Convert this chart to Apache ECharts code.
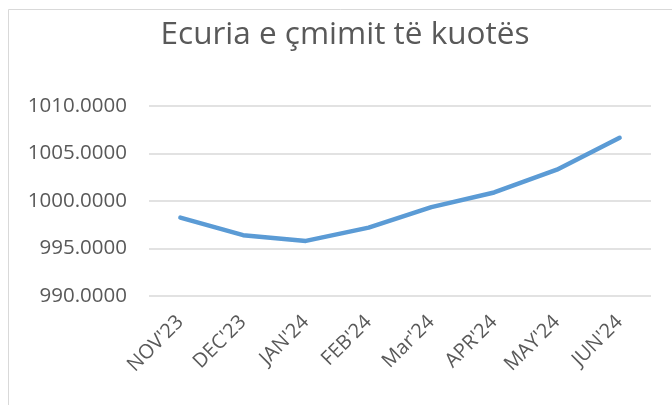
<!DOCTYPE html>
<html>
<head>
<meta charset="utf-8">
<script src="https://cdn.jsdelivr.net/npm/echarts@6/dist/echarts.min.js"></script>
<style>html,body{margin:0;padding:0;background:#fff;}#c{width:672px;height:405px;}</style>
</head>
<body>
<div id="c"></div>
<script>
const titleText = "Ecuria e çmimit të kuotës";
const categories = ["NOV'23", "DEC'23", "JAN'24", "FEB'24", "Mar'24", "APR'24", "MAY'24", "JUN'24"];
const values = [998.25, 996.4, 995.8, 997.2, 999.35, 1000.9, 1003.3, 1006.65];
const yMin = 990, yMax = 1010, yStep = 5;

const chart = echarts.init(document.getElementById('c'), null, {renderer: 'canvas'});
chart.setOption({
  animation: false,
  backgroundColor: '#ffffff',
  graphic: [{
    type: 'rect', left: 6, top: 7, silent: true,
    shape: {width: 700, height: 420},
    style: {fill: 'none', stroke: '#d9d9d9', lineWidth: 1}
  }],
  title: {
    text: titleText, left: 340, top: 14, textAlign: 'center',
    textStyle: {fontFamily: 'Open Sans', fontWeight: 'normal', fontSize: 31.5, color: '#595959'}
  },
  grid: {left: 149, right: 21, top: 106, bottom: 109},
  xAxis: {
    type: 'category', data: categories, boundaryGap: true,
    axisLine: {show: false}, axisTick: {show: false},
    axisLabel: {rotate: 45, margin: 23, fontFamily: 'Open Sans', fontSize: 20, color: '#595959'}
  },
  yAxis: {
    type: 'value', min: yMin, max: yMax, interval: yStep,
    axisLine: {show: false}, axisTick: {show: false},
    splitLine: {lineStyle: {color: '#d9d9d9', width: 1.5}},
    axisLabel: {margin: 22, fontFamily: 'Open Sans', fontSize: 20.5, color: '#595959',
      formatter: v => v.toFixed(4)}
  },
  series: [{
    type: 'line', data: values, showSymbol: false, symbol: 'none',
    lineStyle: {color: '#5b9bd5', width: 4.5, cap: 'round', join: 'round'}
  }]
});
</script>
</body>
</html>
